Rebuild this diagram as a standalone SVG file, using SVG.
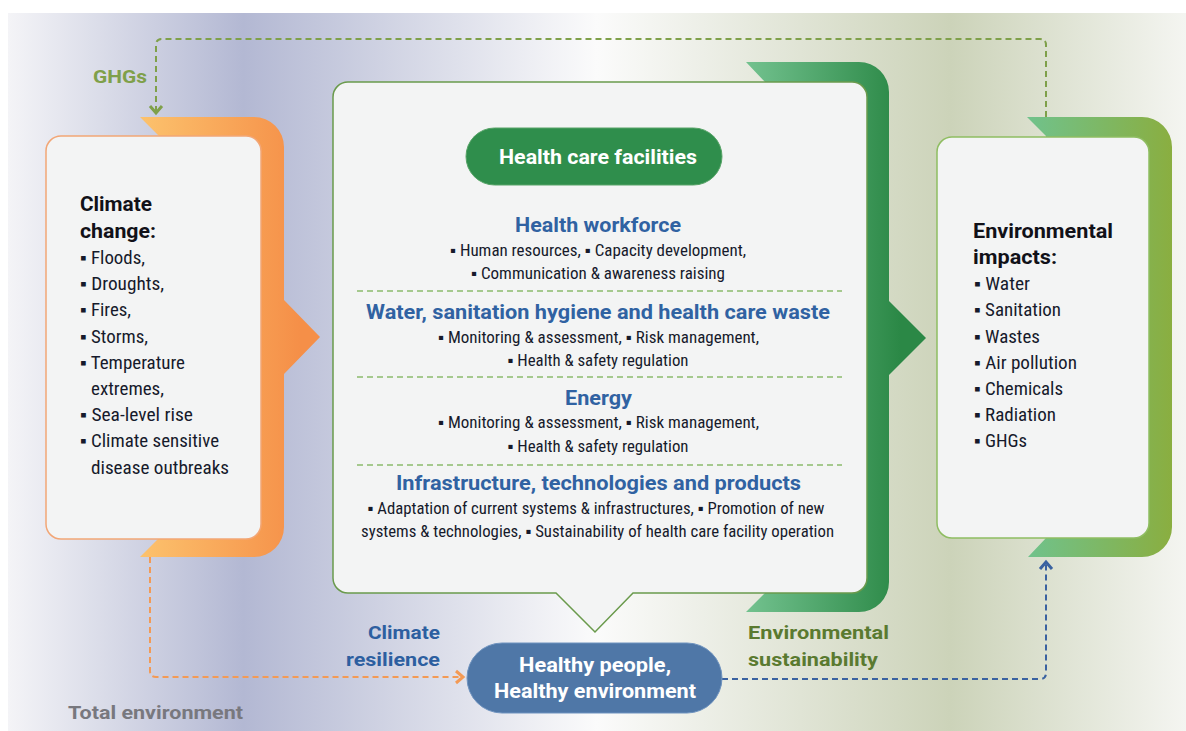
<svg xmlns="http://www.w3.org/2000/svg" width="1186" height="731" viewBox="0 0 1186 731">
<defs>
<linearGradient id="bg" gradientUnits="userSpaceOnUse" x1="8" y1="0" x2="1186" y2="0">
<stop offset="0" stop-color="#f4f4f7"/>
<stop offset="0.2" stop-color="#b3b8d3"/>
<stop offset="0.5" stop-color="#fbfbfb"/>
<stop offset="0.8" stop-color="#ccd3b9"/>
<stop offset="1" stop-color="#f4f5f1"/>
</linearGradient>
<linearGradient id="gOrange" gradientUnits="userSpaceOnUse" x1="140" y1="0" x2="300" y2="0">
<stop offset="0" stop-color="#fcc26d"/>
<stop offset="1" stop-color="#f58f48"/>
</linearGradient>
<linearGradient id="gGreen" gradientUnits="userSpaceOnUse" x1="746" y1="0" x2="900" y2="0">
<stop offset="0" stop-color="#73c28f"/>
<stop offset="1" stop-color="#2b8846"/>
</linearGradient>
<linearGradient id="gOlive" gradientUnits="userSpaceOnUse" x1="1027" y1="0" x2="1172" y2="0">
<stop offset="0" stop-color="#70c28c"/>
<stop offset="1" stop-color="#8aae40"/>
</linearGradient>
<marker id="mGreen" markerUnits="userSpaceOnUse" markerWidth="20" markerHeight="20" viewBox="-10 -10 20 20" refX="0" refY="0" orient="auto">
<path d="M-7,-6 L0,0 L-7,6" fill="none" stroke="#7fa04a" stroke-width="3"/>
</marker>
<marker id="mOrange" markerUnits="userSpaceOnUse" markerWidth="20" markerHeight="20" viewBox="-10 -10 20 20" refX="0" refY="0" orient="auto">
<path d="M-7,-6 L0,0 L-7,6" fill="none" stroke="#f39a55" stroke-width="3"/>
</marker>
<marker id="mBlue" markerUnits="userSpaceOnUse" markerWidth="20" markerHeight="20" viewBox="-10 -10 20 20" refX="0" refY="0" orient="auto">
<path d="M-7,-6 L0,0 L-7,6" fill="none" stroke="#3a62a0" stroke-width="3"/>
</marker>
</defs>
<style>
.box{fill:#f3f4f4;stroke-width:1.5}
.hd{font-family:Roboto,"Liberation Sans",sans-serif;font-weight:bold}
.it{font-family:"Liberation Sans Narrow","Roboto Condensed","Liberation Sans",sans-serif;fill:#161a2b}
.big{font-size:20px;fill:#111118}
.lst{font-size:18px}
.sub{font-size:16.5px}
.blue{fill:#3062a2;font-size:20px}
.conn{fill:none;stroke-width:2;stroke-dasharray:6 4}
</style>
<rect x="8" y="13" width="1178" height="718" fill="url(#bg)"/>

<g id="connectors">
<path class="conn" stroke="#7fa04a" d="M1046,117 V45 Q1046,39 1040,39 H162 Q156,39 156,45 V113" marker-end="url(#mGreen)"/>
<path class="conn" stroke="#f39a55" d="M150,557 V671 Q150,677 156,677 H463" marker-end="url(#mOrange)"/>
<path class="conn" stroke="#3a62a0" d="M722,679 H1040 Q1046,679 1046,673 V562" marker-end="url(#mBlue)"/>
</g>

<g id="climate-change">
<path d="M140,117 H254 A30,30 0 0 1 284,147 V300 L320,337 L284,374 V527 A30,30 0 0 1 254,557 H140 L159,538 V136 Z" fill="url(#gOrange)"/>
<rect class="box" x="46" y="136" width="215" height="403" rx="15" stroke="#f2a676"/>
<text class="hd big" x="80" y="211" textLength="72" lengthAdjust="spacingAndGlyphs">Climate</text>
<text class="hd big" x="80" y="238" textLength="76" lengthAdjust="spacingAndGlyphs">change:</text>
<text class="it lst" x="80" y="264" textLength="65" lengthAdjust="spacingAndGlyphs">▪ Floods,</text>
<text class="it lst" x="80" y="290" textLength="84" lengthAdjust="spacingAndGlyphs">▪ Droughts,</text>
<text class="it lst" x="80" y="316" textLength="51" lengthAdjust="spacingAndGlyphs">▪ Fires,</text>
<text class="it lst" x="80" y="343" textLength="68" lengthAdjust="spacingAndGlyphs">▪ Storms,</text>
<text class="it lst" x="80" y="369" textLength="105" lengthAdjust="spacingAndGlyphs">▪ Temperature</text>
<text class="it lst" x="91" y="395" textLength="73" lengthAdjust="spacingAndGlyphs">extremes,</text>
<text class="it lst" x="80" y="421" textLength="113" lengthAdjust="spacingAndGlyphs">▪ Sea-level rise</text>
<text class="it lst" x="80" y="447" textLength="139" lengthAdjust="spacingAndGlyphs">▪ Climate sensitive</text>
<text class="it lst" x="91" y="474" textLength="138" lengthAdjust="spacingAndGlyphs">disease outbreaks</text>
</g>

<g id="health-care-facilities">
<path d="M746,62 H859 A30,30 0 0 1 889,92 V301 L926,338 L889,375 V582 A30,30 0 0 1 859,612 H746 L765,593 V82 Z" fill="url(#gGreen)"/>
<path class="box" stroke="#6a9a4c" d="M348,82 H852 A15,15 0 0 1 867,97 V578 A15,15 0 0 1 852,593 H633 L595,632 L556,593 H348 A15,15 0 0 1 333,578 V97 A15,15 0 0 1 348,82 Z"/>
<rect x="466" y="128" width="256" height="57" rx="28.5" fill="#2f8e4c" stroke="#58a468" stroke-width="1"/>
<text class="hd" x="598" y="164" font-size="21" fill="#ffffff" text-anchor="middle" textLength="198" lengthAdjust="spacingAndGlyphs">Health care facilities</text>
<text class="hd blue" x="598" y="232" text-anchor="middle" textLength="166" lengthAdjust="spacingAndGlyphs">Health workforce</text>
<text class="it sub" x="598" y="256" text-anchor="middle" textLength="296" lengthAdjust="spacingAndGlyphs">▪ Human resources, ▪ Capacity development,</text>
<text class="it sub" x="598" y="279" text-anchor="middle" textLength="254" lengthAdjust="spacingAndGlyphs">▪ Communication &amp; awareness raising</text>
<line x1="357" y1="291" x2="842" y2="291" stroke="#8cba6c" stroke-width="1.5" stroke-dasharray="6 4"/>
<text class="hd blue" x="598" y="319" text-anchor="middle" textLength="464" lengthAdjust="spacingAndGlyphs">Water, sanitation hygiene and health care waste</text>
<text class="it sub" x="598.5" y="343" text-anchor="middle" textLength="321" lengthAdjust="spacingAndGlyphs">▪ Monitoring &amp; assessment, ▪ Risk management,</text>
<text class="it sub" x="598" y="366" text-anchor="middle" textLength="181" lengthAdjust="spacingAndGlyphs">▪ Health &amp; safety regulation</text>
<line x1="357" y1="377" x2="842" y2="377" stroke="#8cba6c" stroke-width="1.5" stroke-dasharray="6 4"/>
<text class="hd blue" x="598.5" y="405" text-anchor="middle" textLength="67" lengthAdjust="spacingAndGlyphs">Energy</text>
<text class="it sub" x="598.5" y="428" text-anchor="middle" textLength="321" lengthAdjust="spacingAndGlyphs">▪ Monitoring &amp; assessment, ▪ Risk management,</text>
<text class="it sub" x="598" y="452" text-anchor="middle" textLength="181" lengthAdjust="spacingAndGlyphs">▪ Health &amp; safety regulation</text>
<line x1="357" y1="465" x2="842" y2="465" stroke="#8cba6c" stroke-width="1.5" stroke-dasharray="6 4"/>
<text class="hd blue" x="598.5" y="490" text-anchor="middle" textLength="405" lengthAdjust="spacingAndGlyphs">Infrastructure, technologies and products</text>
<text class="it sub" x="596" y="514" text-anchor="middle" textLength="457" lengthAdjust="spacingAndGlyphs">▪ Adaptation of current systems &amp; infrastructures, ▪ Promotion of new</text>
<text class="it sub" x="597.5" y="537" text-anchor="middle" textLength="473" lengthAdjust="spacingAndGlyphs">systems &amp; technologies, ▪ Sustainability of health care facility operation</text>
</g>

<g id="environmental-impacts">
<path d="M1027,117 H1142 A30,30 0 0 1 1172,147 V527 A30,30 0 0 1 1142,557 H1028 L1046,538 V136 Z" fill="url(#gOlive)"/>
<rect class="box" x="937" y="137" width="212" height="401" rx="15" stroke="#8fbd62"/>
<text class="hd big" x="973" y="238" textLength="140" lengthAdjust="spacingAndGlyphs">Environmental</text>
<text class="hd big" x="973" y="264" textLength="84" lengthAdjust="spacingAndGlyphs">impacts:</text>
<text class="it lst" x="974" y="290" textLength="56" lengthAdjust="spacingAndGlyphs">▪ Water</text>
<text class="it lst" x="974" y="316" textLength="87" lengthAdjust="spacingAndGlyphs">▪ Sanitation</text>
<text class="it lst" x="974" y="343" textLength="66" lengthAdjust="spacingAndGlyphs">▪ Wastes</text>
<text class="it lst" x="974" y="369" textLength="103" lengthAdjust="spacingAndGlyphs">▪ Air pollution</text>
<text class="it lst" x="974" y="395" textLength="89" lengthAdjust="spacingAndGlyphs">▪ Chemicals</text>
<text class="it lst" x="974" y="421" textLength="82" lengthAdjust="spacingAndGlyphs">▪ Radiation</text>
<text class="it lst" x="974" y="447" textLength="53" lengthAdjust="spacingAndGlyphs">▪ GHGs</text>
</g>

<g id="healthy-people">
<rect x="467" y="643" width="255" height="70" rx="35" fill="#4f77a7" stroke="#6f93bf" stroke-width="1"/>
<text class="hd" x="595" y="672" font-size="20.5" fill="#ffffff" text-anchor="middle" textLength="152" lengthAdjust="spacingAndGlyphs">Healthy people,</text>
<text class="hd" x="595" y="698" font-size="20.5" fill="#ffffff" text-anchor="middle" textLength="202" lengthAdjust="spacingAndGlyphs">Healthy environment</text>
</g>

<g id="labels">
<text class="hd" x="147" y="83" font-size="18" fill="#7fa04a" text-anchor="end" textLength="54" lengthAdjust="spacingAndGlyphs">GHGs</text>
<text class="hd" x="440" y="639" font-size="19" fill="#2d5fa0" text-anchor="end" textLength="72" lengthAdjust="spacingAndGlyphs">Climate</text>
<text class="hd" x="440" y="666" font-size="19" fill="#2d5fa0" text-anchor="end" textLength="94" lengthAdjust="spacingAndGlyphs">resilience</text>
<text class="hd" x="748" y="639" font-size="19" fill="#5a7a30" textLength="141" lengthAdjust="spacingAndGlyphs">Environmental</text>
<text class="hd" x="748" y="666" font-size="19" fill="#5a7a30" textLength="130" lengthAdjust="spacingAndGlyphs">sustainability</text>
<text class="hd" x="68" y="719" font-size="19" fill="#78787e" textLength="175" lengthAdjust="spacingAndGlyphs">Total environment</text>
</g>
</svg>
